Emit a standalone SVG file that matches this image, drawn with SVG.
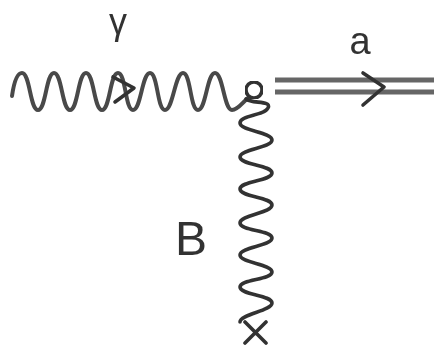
<svg xmlns="http://www.w3.org/2000/svg" width="436" height="349" viewBox="0 0 436 349">
<style>
.w{fill:none;stroke:#4a4a4a;stroke-width:4;stroke-linecap:round;stroke-linejoin:round}
.d{stroke:#333;stroke-width:3.6}
.l{stroke:#666;stroke-width:5;fill:none}
text{font-family:"Liberation Sans",Arial,sans-serif;fill:#333}
</style>
<defs><filter id="b" x="-5%" y="-5%" width="110%" height="110%"><feGaussianBlur stdDeviation="0.7"/></filter></defs>
<rect width="436" height="349" fill="#fff"/>
<g id="connectors" filter="url(#b)">
<path id="photon" class="w" d="M12 96C14 82 17 73 22 73C30 73 30 110 38 110C46 110 46 73 54 73C62 73 62 110 70 110C78 110 78 73 86 73C94 73 94 110 102 110C110 110 110 73 118 73C126 73 125 110 133 110C141 110 142 73 150 73C158 73 157 110 165 110C173 110 175 73 183 73C191 73 190 110 198 110C206 110 207 73 215 73C223 73 224 110 232 110C238 110 242 103 248 98"/>
<path id="photon-arrow" class="w d" d="M113 77L134 88L115 102"/>
<path id="field" class="w d" d="M246 99C252 104 272 100 268 108C264 116 240 115 240 123C240 131 272 132 272 140C272 148 240 149 240 157C240 165 272 165 272 173C272 181 240 181 240 189C240 197 272 197 272 205C272 213 240 215 240 223C240 231 272 230 272 238C272 246 240 247 240 255C240 263 272 264 272 272C272 280 240 279 240 287C240 295 272 295 272 303C272 311 240 314 240 322"/>
<path id="axion-top" class="l" d="M275 80H434"/>
<path id="axion-bottom" class="l" d="M275 92H434"/>
<path id="axion-arrow" class="w d" d="M363 73L384 87L363 105"/>
</g>
<g id="vertex" filter="url(#b)"><circle class="w d" cx="254" cy="90" r="8"/></g>
<g id="source" filter="url(#b)"><path class="w d" d="M245 322L266 343M266 322L245 343"/></g>
<g id="label-gamma" filter="url(#b)"><text x="118" y="34" font-size="36" text-anchor="middle">γ</text></g>
<g id="label-a" filter="url(#b)"><text x="360" y="54" font-size="38" text-anchor="middle">a</text></g>
<g id="label-B" filter="url(#b)"><text x="191" y="255" font-size="48" text-anchor="middle">B</text></g>
</svg>
